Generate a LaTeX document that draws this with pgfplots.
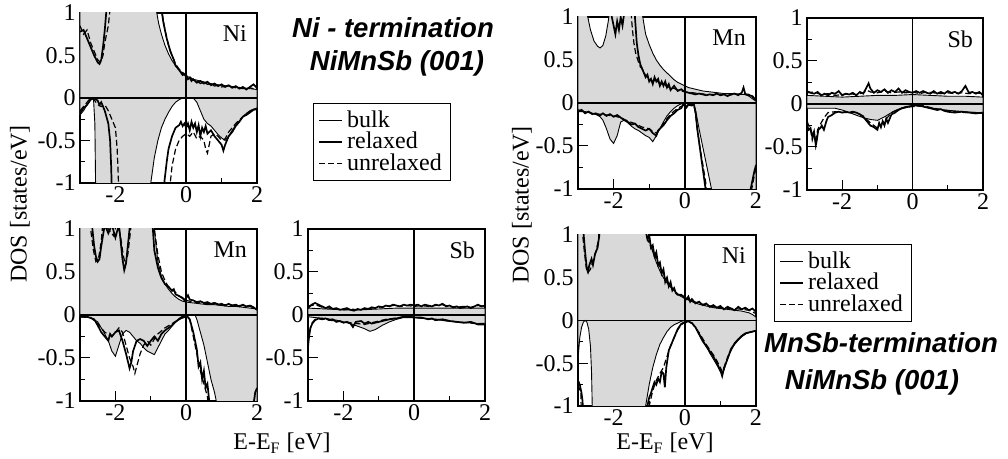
\documentclass[border=0pt]{standalone}
\usepackage{fontspec}
\setmainfont{Liberation Serif}
\setsansfont{Liberation Sans}
\usepackage{pgfplots}
\usepackage{pgfplotstable}
\pgfplotsset{compat=1.18}

\tikzset{plab/.style={anchor=north east, inner sep=0pt, font=\fontsize{12}{14}\selectfont}}
\pgfplotsset{
  dos/.style={
    scale only axis, width=88.5pt, height=85.5pt,
    xmin=-3,xmax=2,ymin=-1,ymax=1,
    xtick={-2,0,2}, minor xtick={-1,1},
    ytick={-1,-0.5,0,0.5,1}, minor ytick={-0.75,-0.25,0.25,0.75},
    xtick pos=left, ytick pos=left,
    tick align=inside,
    major tick length=5pt, minor tick length=2.5pt,
    every tick/.style={black, line width=0.5pt},
    axis line style={line width=0.7pt},
    tick label style={font=\fontsize{12}{14}\selectfont},
    /pgf/number format/assume math mode=true,
    xticklabel style={inner sep=1.5pt},
    yticklabel style={inner sep=2pt},
    clip=true,
  },
  bulkfill/.style={draw=none, fill=black!15, forget plot},
  bulk/.style={black, line width=0.45pt, forget plot},
  rel/.style={black, line width=0.85pt, forget plot},
  unrel/.style={black, line width=0.6pt, dash pattern=on 3pt off 1.5pt, forget plot},
  zl/.style={black, line width=0.8pt, forget plot},
  mylegend/.style={legend style={draw=black, line width=0.5pt, fill=white,
      font=\fontsize{12}{13}\selectfont, inner xsep=2.5pt, inner ysep=1.5pt, row sep=-3pt,
      nodes={inner sep=2pt, text depth=0.15em},
      cells={anchor=west}},
    legend image code/.code={\draw[##1] (0pt,0pt) -- (11.5pt,0pt);}},
}

% ---------- Ni termination: Ni ----------
\pgfplotstableread[row sep=\\]{x y\\ -3 0\\ -3 2\\ -1.0 2\\ -0.88 1.1\\ -0.83 1.0\\ -0.78 0.88\\ -0.7 0.75\\ -0.6 0.62\\ -0.5 0.52\\ -0.4 0.44\\ -0.3 0.38\\ -0.2 0.33\\ -0.1 0.29\\ 0 0.26\\ 0.1 0.24\\ 0.2 0.22\\ 0.4 0.2\\ 0.6 0.18\\ 0.8 0.16\\ 1.0 0.15\\ 1.2 0.14\\ 1.4 0.13\\ 1.6 0.12\\ 1.8 0.11\\ 2 0.1\\ 2 0\\}\NiLbu
\pgfplotstableread[row sep=\\]{x y\\ -3 0\\ -3 -0.2\\ -2.9 -0.15\\ -2.8 -0.08\\ -2.7 -0.02\\ -2.62 0\\ -2.58 -0.3\\ -2.56 -1\\ -2.55 -2\\ -1.05 -2\\ -1.0 -1.0\\ -0.9 -0.7\\ -0.8 -0.5\\ -0.7 -0.35\\ -0.6 -0.25\\ -0.5 -0.17\\ -0.4 -0.1\\ -0.3 -0.05\\ -0.2 -0.02\\ -0.1 0\\ 0.2 0\\ 0.3 -0.05\\ 0.4 -0.15\\ 0.5 -0.25\\ 0.6 -0.3\\ 0.7 -0.33\\ 0.8 -0.38\\ 0.9 -0.43\\ 1.0 -0.47\\ 1.1 -0.5\\ 1.2 -0.45\\ 1.3 -0.38\\ 1.4 -0.32\\ 1.5 -0.27\\ 1.6 -0.22\\ 1.7 -0.18\\ 1.8 -0.15\\ 1.9 -0.13\\ 2 -0.12\\ 2 0\\}\NiLbd
% ---------- Ni termination: Mn ----------
\pgfplotstableread[row sep=\\]{x y\\ -3 0\\ -3 2\\ -0.95 2\\ -0.9 1.0\\ -0.85 0.8\\ -0.8 0.62\\ -0.7 0.45\\ -0.6 0.36\\ -0.5 0.3\\ -0.4 0.25\\ -0.3 0.21\\ -0.2 0.18\\ -0.1 0.16\\ 0 0.15\\ 0.2 0.14\\ 0.4 0.13\\ 0.6 0.12\\ 0.8 0.12\\ 1.0 0.11\\ 1.2 0.1\\ 1.4 0.1\\ 1.6 0.09\\ 1.8 0.08\\ 2 0.07\\ 2 0\\}\MnLbu
\pgfplotstableread[row sep=\\]{x y\\ -3 0\\ -3 -0.02\\ -2.7 -0.03\\ -2.5 -0.08\\ -2.4 -0.15\\ -2.3 -0.22\\ -2.2 -0.3\\ -2.1 -0.42\\ -2.0 -0.48\\ -1.9 -0.35\\ -1.8 -0.22\\ -1.7 -0.18\\ -1.6 -0.2\\ -1.5 -0.25\\ -1.4 -0.3\\ -1.3 -0.33\\ -1.2 -0.38\\ -1.1 -0.42\\ -1.0 -0.44\\ -0.9 -0.46\\ -0.8 -0.38\\ -0.7 -0.3\\ -0.6 -0.22\\ -0.5 -0.18\\ -0.4 -0.13\\ -0.3 -0.08\\ -0.2 -0.04\\ -0.1 -0.01\\ 0.25 0\\ 0.3 -0.05\\ 0.4 -0.2\\ 0.5 -0.35\\ 0.6 -0.55\\ 0.7 -0.75\\ 0.8 -0.9\\ 0.85 -1.0\\ 0.9 -1.5\\ 2 -1.5\\ 2 0\\}\MnLbd
% ---------- Ni termination: Sb ----------
\pgfplotstableread[row sep=\\]{x y\\ -3 0\\ -3 0.08\\ -2.5 0.07\\ -2 0.06\\ -1.5 0.06\\ -1 0.07\\ -0.5 0.08\\ 0 0.08\\ 0.5 0.08\\ 1 0.08\\ 1.5 0.08\\ 2 0.08\\ 2 0\\}\SbLbu
\pgfplotstableread[row sep=\\]{x y\\ -3 0\\ -3 -0.02\\ -2.8 -0.03\\ -2.5 -0.04\\ -2.2 -0.06\\ -2.0 -0.08\\ -1.8 -0.1\\ -1.6 -0.13\\ -1.4 -0.16\\ -1.25 -0.19\\ -1.1 -0.17\\ -0.9 -0.12\\ -0.7 -0.08\\ -0.5 -0.05\\ -0.3 -0.03\\ 0 -0.03\\ 0.3 -0.04\\ 0.6 -0.05\\ 0.9 -0.07\\ 1.2 -0.08\\ 1.5 -0.09\\ 1.8 -0.1\\ 2 -0.1\\ 2 0\\}\SbLbd
% ---------- MnSb termination: Mn ----------
\pgfplotstableread[row sep=\\]{x y\\ -3 0\\ -3 1.5\\ -2.75 1.05\\ -2.65 0.85\\ -2.55 0.72\\ -2.45 0.66\\ -2.38 0.64\\ -2.3 0.67\\ -2.22 0.78\\ -2.15 0.95\\ -2.1 1.1\\ -2.05 1.5\\ -1.25 1.5\\ -1.2 1.05\\ -1.1 0.8\\ -1.0 0.68\\ -0.9 0.58\\ -0.8 0.5\\ -0.7 0.44\\ -0.6 0.39\\ -0.5 0.35\\ -0.4 0.31\\ -0.3 0.27\\ -0.2 0.24\\ -0.1 0.22\\ 0 0.2\\ 0.1 0.18\\ 0.3 0.16\\ 0.5 0.14\\ 0.7 0.13\\ 0.9 0.12\\ 1.1 0.11\\ 1.3 0.11\\ 1.5 0.1\\ 1.7 0.1\\ 1.8 0.08\\ 1.9 0.05\\ 2 0.02\\ 2 0\\}\MnRbu
\pgfplotstableread[row sep=\\]{x y\\ -3 0\\ -3 -0.1\\ -2.8 -0.1\\ -2.6 -0.12\\ -2.4 -0.15\\ -2.3 -0.2\\ -2.2 -0.3\\ -2.1 -0.42\\ -2.0 -0.47\\ -1.9 -0.38\\ -1.8 -0.22\\ -1.7 -0.2\\ -1.6 -0.23\\ -1.5 -0.27\\ -1.4 -0.3\\ -1.3 -0.32\\ -1.2 -0.35\\ -1.1 -0.38\\ -1.0 -0.4\\ -0.9 -0.45\\ -0.8 -0.38\\ -0.7 -0.3\\ -0.6 -0.22\\ -0.5 -0.15\\ -0.4 -0.1\\ -0.3 -0.06\\ -0.2 -0.03\\ -0.1 -0.01\\ 0.25 0\\ 0.32 -0.12\\ 0.4 -0.3\\ 0.5 -0.5\\ 0.6 -0.7\\ 0.7 -0.9\\ 0.75 -1.0\\ 0.8 -1.5\\ 2 -1.5\\ 2 0\\}\MnRbd
% ---------- MnSb termination: Sb ----------
\pgfplotstableread[row sep=\\]{x y\\ -3 0\\ -3 0.1\\ -2.5 0.09\\ -2 0.08\\ -1.5 0.09\\ -1 0.1\\ -0.5 0.1\\ 0 0.11\\ 0.5 0.1\\ 1 0.09\\ 1.5 0.09\\ 2 0.08\\ 2 0\\}\SbRbu
\pgfplotstableread[row sep=\\]{x y\\ -3 0\\ -3 -0.05\\ -2.5 -0.05\\ -2.2 -0.05\\ -2.0 -0.07\\ -1.8 -0.1\\ -1.6 -0.13\\ -1.4 -0.16\\ -1.2 -0.18\\ -1.0 -0.19\\ -0.8 -0.15\\ -0.6 -0.1\\ -0.4 -0.06\\ -0.2 -0.03\\ 0 -0.02\\ 0.3 -0.03\\ 0.6 -0.05\\ 0.9 -0.07\\ 1.2 -0.08\\ 1.5 -0.09\\ 1.8 -0.1\\ 2 -0.1\\ 2 0\\}\SbRbd
% ---------- MnSb termination: Ni ----------
\pgfplotstableread[row sep=\\]{x y\\ -3 0\\ -3 2\\ -1.1 2\\ -1.05 1.1\\ -1.0 0.95\\ -0.9 0.8\\ -0.8 0.68\\ -0.7 0.58\\ -0.6 0.5\\ -0.5 0.44\\ -0.4 0.39\\ -0.3 0.35\\ -0.2 0.31\\ -0.1 0.28\\ 0 0.26\\ 0.2 0.22\\ 0.4 0.19\\ 0.6 0.17\\ 0.8 0.15\\ 1.0 0.14\\ 1.2 0.13\\ 1.4 0.12\\ 1.6 0.11\\ 1.8 0.09\\ 1.9 0.07\\ 2 0.04\\ 2 0\\}\NiRbu
\pgfplotstableread[row sep=\\]{x y\\ -3 0\\ -3 -0.45\\ -2.95 -0.2\\ -2.9 -0.08\\ -2.85 -0.02\\ -2.8 0\\ -2.75 -0.02\\ -2.7 -0.1\\ -2.65 -0.3\\ -2.62 -0.6\\ -2.6 -1.0\\ -2.58 -1.5\\ -1.12 -1.5\\ -1.1 -1.0\\ -1.0 -0.75\\ -0.9 -0.55\\ -0.8 -0.4\\ -0.7 -0.28\\ -0.6 -0.2\\ -0.5 -0.13\\ -0.4 -0.08\\ -0.3 -0.05\\ -0.2 -0.03\\ -0.1 -0.01\\ 0 0\\ 0.1 -0.01\\ 0.2 -0.03\\ 0.3 -0.08\\ 0.4 -0.15\\ 0.5 -0.22\\ 0.6 -0.3\\ 0.7 -0.38\\ 0.8 -0.45\\ 0.9 -0.52\\ 1.0 -0.6\\ 1.05 -0.63\\ 1.1 -0.58\\ 1.2 -0.45\\ 1.3 -0.35\\ 1.4 -0.28\\ 1.5 -0.23\\ 1.6 -0.19\\ 1.7 -0.16\\ 1.8 -0.14\\ 1.9 -0.13\\ 2 -0.12\\ 2 0\\}\NiRbd

\begin{document}
\begin{tikzpicture}
\useasboundingbox (0,0) rectangle (504pt,-229.5pt);

% ===== Panel 1: Ni (Ni-termination) =====
\begin{axis}[dos, at={(40pt,-6.5pt)}, anchor=north west, height=85pt, mylegend,
  legend style={at={(1.316,0.47)}, anchor=north west}]
\addlegendimage{black, line width=0.45pt}\addlegendentry{bulk}
\addlegendimage{black, line width=0.85pt}\addlegendentry{relaxed}
\addlegendimage{black, line width=0.6pt, dash pattern=on 3pt off 1.5pt}\addlegendentry{unrelaxed}
\addplot[bulkfill] table {\NiLbu} \closedcycle;
\addplot[bulkfill] table {\NiLbd} \closedcycle;
\addplot[zl] coordinates {(-3,0) (2,0)};
\addplot[zl] coordinates {(0,-1) (0,1)};
\addplot[bulk] table {\NiLbu};
\addplot[bulk] table {\NiLbd};
\addplot[unrel] coordinates {(-3,0.85) (-2.9,0.75) (-2.8,0.8) (-2.7,0.65) (-2.6,0.55) (-2.5,0.45) (-2.42,0.42) (-2.35,0.5) (-2.3,0.65) (-2.2,0.85) (-2.15,1.05) (-2.1,1.5) (-0.75,1.5) (-0.68,1.0) (-0.6,0.8) (-0.5,0.62) (-0.4,0.5) (-0.3,0.4) (-0.2,0.34) (-0.1,0.3) (0,0.27) (0.1,0.25) (0.2,0.21) (0.3,0.2) (0.4,0.17) (0.5,0.19) (0.6,0.16) (0.7,0.17) (0.8,0.14) (0.9,0.15) (1.0,0.13) (1.2,0.14) (1.4,0.12) (1.6,0.11) (1.8,0.12) (2,0.1)};
\addplot[rel] coordinates {(-3,0.78) (-2.9,0.8) (-2.8,0.7) (-2.7,0.6) (-2.6,0.5) (-2.5,0.42) (-2.45,0.4) (-2.4,0.45) (-2.35,0.6) (-2.3,0.8) (-2.25,1.05) (-2.2,1.5) (-0.8,1.5) (-0.7,1.05) (-0.65,0.9) (-0.55,0.7) (-0.45,0.55) (-0.35,0.45) (-0.3,0.38) (-0.2,0.33) (-0.15,0.3) (-0.1,0.27) (-0.05,0.28) (0,0.25) (0.05,0.22) (0.1,0.24) (0.15,0.2) (0.2,0.22) (0.3,0.18) (0.4,0.2) (0.5,0.17) (0.6,0.19) (0.7,0.15) (0.8,0.17) (0.9,0.14) (1.0,0.16) (1.1,0.13) (1.2,0.15) (1.3,0.12) (1.4,0.14) (1.5,0.11) (1.6,0.13) (1.7,0.1) (1.8,0.13) (1.9,0.16) (2,0.12)};
\addplot[unrel] coordinates {(-3,-0.15) (-2.8,-0.05) (-2.7,0) (-2.6,-0.02) (-2.5,-0.08) (-2.4,-0.1) (-2.3,-0.08) (-2.2,-0.15) (-2.1,-0.25) (-2.0,-0.35) (-1.95,-0.6) (-1.92,-0.9) (-1.9,-1.2) (-1.85,-2) (-0.55,-2) (-0.45,-1.0) (-0.4,-0.8) (-0.3,-0.6) (-0.2,-0.5) (-0.1,-0.45) (0,-0.42) (0.1,-0.45) (0.2,-0.4) (0.3,-0.48) (0.4,-0.45) (0.5,-0.5) (0.55,-0.6) (0.6,-0.65) (0.65,-0.55) (0.7,-0.45) (0.8,-0.42) (0.9,-0.45) (1.0,-0.5) (1.1,-0.48) (1.2,-0.4) (1.4,-0.3) (1.6,-0.22) (1.8,-0.16) (2,-0.12)};
\addplot[rel] coordinates {(-3,-0.18) (-2.9,-0.12) (-2.8,-0.08) (-2.7,-0.02) (-2.6,0) (-2.5,-0.03) (-2.45,-0.08) (-2.4,-0.05) (-2.3,-0.15) (-2.2,-0.3) (-2.15,-0.5) (-2.12,-0.8) (-2.1,-1.1) (-2.05,-2) (-0.7,-2) (-0.62,-1.0) (-0.55,-0.75) (-0.5,-0.6) (-0.4,-0.45) (-0.3,-0.35) (-0.2,-0.32) (-0.15,-0.28) (-0.1,-0.33) (-0.05,-0.3) (0,-0.35) (0.05,-0.3) (0.1,-0.38) (0.15,-0.28) (0.2,-0.35) (0.25,-0.3) (0.3,-0.4) (0.35,-0.32) (0.4,-0.45) (0.45,-0.35) (0.5,-0.4) (0.55,-0.33) (0.6,-0.42) (0.7,-0.38) (0.8,-0.45) (0.9,-0.5) (1.0,-0.55) (1.05,-0.62) (1.1,-0.55) (1.2,-0.45) (1.3,-0.4) (1.4,-0.33) (1.5,-0.28) (1.6,-0.22) (1.7,-0.2) (1.8,-0.17) (1.9,-0.14) (2,-0.13)};
\node[plab] at (rel axis cs:0.945,0.93) {Ni};
\end{axis}

% ===== Panel 2: Mn (Ni-termination) =====
\begin{axis}[dos, at={(40pt,-114.5pt)}, anchor=north west, height=86pt]
\addplot[bulkfill] table {\MnLbu} \closedcycle;
\addplot[bulkfill] table {\MnLbd} \closedcycle;
\addplot[zl] coordinates {(-3,0) (2,0)};
\addplot[zl] coordinates {(0,-1) (0,1)};
\addplot[bulk] table {\MnLbu};
\addplot[bulk] table {\MnLbd};
\addplot[unrel] coordinates {(-3,1.5) (-2.75,1.5) (-2.7,1.0) (-2.62,0.75) (-2.55,0.62) (-2.48,0.65) (-2.4,0.85) (-2.35,1.1) (-2.2,1.0) (-2.05,0.92) (-1.95,1.1) (-1.85,0.9) (-1.78,0.7) (-1.72,0.58) (-1.65,0.7) (-1.58,0.95) (-1.5,1.3) (-1.2,1.5) (-1.0,1.5) (-0.9,1.0) (-0.8,0.7) (-0.7,0.5) (-0.6,0.4) (-0.5,0.32) (-0.4,0.3) (-0.3,0.26) (-0.2,0.22) (-0.1,0.19) (0,0.17) (0.1,0.16) (0.2,0.15) (0.4,0.14) (0.6,0.13) (0.8,0.14) (1.0,0.12) (1.2,0.12) (1.4,0.11) (1.6,0.11) (1.8,0.1) (2,0.07)};
\addplot[rel] coordinates {(-3,1.5) (-2.7,1.5) (-2.65,1.0) (-2.6,0.8) (-2.55,0.68) (-2.5,0.62) (-2.45,0.65) (-2.4,0.8) (-2.3,1.05) (-2.2,0.95) (-2.1,1.05) (-2.0,0.9) (-1.9,1.05) (-1.85,0.85) (-1.8,0.65) (-1.75,0.52) (-1.7,0.6) (-1.65,0.8) (-1.6,1.0) (-1.5,1.5) (-1.0,1.5) (-0.95,1.05) (-0.9,0.75) (-0.8,0.55) (-0.7,0.43) (-0.6,0.36) (-0.5,0.33) (-0.4,0.28) (-0.35,0.3) (-0.3,0.24) (-0.2,0.22) (-0.1,0.2) (-0.05,0.17) (0,0.2) (0.05,0.23) (0.1,0.18) (0.2,0.17) (0.3,0.15) (0.4,0.16) (0.5,0.14) (0.6,0.15) (0.7,0.13) (0.8,0.14) (0.9,0.12) (1.0,0.13) (1.1,0.11) (1.2,0.13) (1.3,0.11) (1.4,0.12) (1.5,0.1) (1.6,0.12) (1.7,0.1) (1.8,0.11) (1.9,0.09) (2,0.06)};
\addplot[unrel] coordinates {(-3,-0.02) (-2.7,-0.03) (-2.5,-0.1) (-2.3,-0.2) (-2.1,-0.25) (-1.9,-0.15) (-1.8,-0.2) (-1.7,-0.35) (-1.6,-0.5) (-1.5,-0.6) (-1.45,-0.68) (-1.4,-0.6) (-1.3,-0.45) (-1.2,-0.35) (-1.1,-0.3) (-1.0,-0.35) (-0.9,-0.28) (-0.8,-0.22) (-0.6,-0.15) (-0.4,-0.1) (-0.2,-0.05) (0,-0.02) (0.1,-0.05) (0.2,-0.25) (0.3,-0.45) (0.4,-0.65) (0.5,-0.8) (0.6,-0.95) (0.65,-1.2) (1.85,-1.2) (1.95,-0.9) (2,-0.85)};
\addplot[rel] coordinates {(-3,-0.02) (-2.8,-0.02) (-2.6,-0.05) (-2.5,-0.12) (-2.4,-0.2) (-2.3,-0.25) (-2.2,-0.3) (-2.15,-0.22) (-2.1,-0.25) (-2.0,-0.2) (-1.9,-0.18) (-1.8,-0.3) (-1.7,-0.45) (-1.6,-0.62) (-1.55,-0.55) (-1.5,-0.42) (-1.4,-0.3) (-1.3,-0.28) (-1.2,-0.3) (-1.1,-0.36) (-1.0,-0.3) (-0.9,-0.25) (-0.8,-0.3) (-0.7,-0.22) (-0.6,-0.18) (-0.5,-0.15) (-0.4,-0.12) (-0.3,-0.08) (-0.2,-0.05) (-0.1,-0.02) (0,0) (0.1,-0.05) (0.2,-0.2) (0.3,-0.4) (0.35,-0.6) (0.4,-0.55) (0.45,-0.75) (0.5,-0.65) (0.55,-0.85) (0.6,-0.8) (0.65,-1.0) (0.7,-1.3) (1.8,-1.3) (1.9,-1.05) (1.95,-0.9) (2,-0.85)};
\node[plab] at (rel axis cs:0.945,0.93) {Mn};
\end{axis}

% ===== Panel 3: Sb (Ni-termination) =====
\begin{axis}[dos, at={(154pt,-114.5pt)}, anchor=north west, height=86pt]
\addplot[bulkfill] table {\SbLbu} \closedcycle;
\addplot[bulkfill] table {\SbLbd} \closedcycle;
\addplot[zl] coordinates {(-3,0) (2,0)};
\addplot[zl] coordinates {(0,-1) (0,1)};
\addplot[bulk] table {\SbLbu};
\addplot[bulk] table {\SbLbd};
\addplot[unrel] coordinates {(-3,0.1) (-2.8,0.12) (-2.6,0.09) (-2.4,0.08) (-2.2,0.07) (-2.0,0.06) (-1.8,0.07) (-1.6,0.06) (-1.4,0.07) (-1.2,0.08) (-1.0,0.09) (-0.8,0.1) (-0.6,0.11) (-0.4,0.1) (-0.2,0.11) (0,0.1) (0.2,0.11) (0.4,0.1) (0.6,0.11) (0.8,0.12) (1.0,0.1) (1.2,0.09) (1.4,0.1) (1.6,0.09) (1.8,0.11) (2,0.1)};
\addplot[rel] coordinates {(-3,0.08) (-2.9,0.12) (-2.8,0.14) (-2.7,0.12) (-2.6,0.1) (-2.5,0.08) (-2.4,0.1) (-2.3,0.07) (-2.2,0.08) (-2.1,0.06) (-2,0.07) (-1.9,0.08) (-1.8,0.06) (-1.7,0.05) (-1.6,0.07) (-1.5,0.06) (-1.4,0.08) (-1.3,0.07) (-1.2,0.09) (-1.1,0.08) (-1.0,0.1) (-0.9,0.09) (-0.8,0.11) (-0.7,0.1) (-0.6,0.12) (-0.5,0.11) (-0.4,0.1) (-0.3,0.12) (-0.2,0.11) (-0.1,0.12) (0,0.11) (0.1,0.12) (0.2,0.1) (0.3,0.12) (0.4,0.11) (0.5,0.1) (0.6,0.12) (0.7,0.11) (0.8,0.13) (0.9,0.1) (1.0,0.11) (1.1,0.09) (1.2,0.1) (1.3,0.08) (1.4,0.09) (1.5,0.1) (1.6,0.08) (1.7,0.1) (1.8,0.12) (1.9,0.1) (2,0.11)};
\addplot[unrel] coordinates {(-3,-0.3) (-2.95,-0.18) (-2.9,-0.1) (-2.8,-0.05) (-2.6,-0.04) (-2.4,-0.06) (-2.2,-0.07) (-2.0,-0.08) (-1.8,-0.09) (-1.6,-0.1) (-1.4,-0.11) (-1.2,-0.09) (-1.0,-0.07) (-0.8,-0.05) (-0.6,-0.04) (-0.4,-0.03) (-0.2,-0.02) (0,-0.03) (0.3,-0.04) (0.6,-0.05) (0.9,-0.06) (1.2,-0.08) (1.5,-0.09) (1.8,-0.1) (2,-0.1)};
\addplot[rel] coordinates {(-3,-0.37) (-2.97,-0.25) (-2.93,-0.15) (-2.88,-0.1) (-2.8,-0.06) (-2.7,-0.04) (-2.6,-0.05) (-2.5,-0.04) (-2.4,-0.06) (-2.3,-0.05) (-2.2,-0.08) (-2.1,-0.07) (-2.0,-0.09) (-1.9,-0.08) (-1.8,-0.1) (-1.73,-0.14) (-1.65,-0.08) (-1.5,-0.07) (-1.4,-0.1) (-1.3,-0.08) (-1.2,-0.1) (-1.1,-0.09) (-1.0,-0.08) (-0.9,-0.07) (-0.8,-0.06) (-0.7,-0.05) (-0.5,-0.04) (-0.3,-0.02) (-0.1,-0.02) (0,-0.03) (0.2,-0.03) (0.4,-0.05) (0.5,-0.04) (0.6,-0.06) (0.8,-0.05) (1.0,-0.07) (1.2,-0.08) (1.4,-0.09) (1.6,-0.08) (1.8,-0.11) (2,-0.11)};
\node[plab] at (rel axis cs:0.945,0.93) {Sb};
\end{axis}

% ===== Panel 4: Mn (MnSb-termination) =====
\begin{axis}[dos, at={(289pt,-8.5pt)}, anchor=north west, width=89pt, height=86pt]
\addplot[bulkfill] table {\MnRbu} \closedcycle;
\addplot[bulkfill] table {\MnRbd} \closedcycle;
\addplot[zl] coordinates {(-3,0) (2,0)};
\addplot[zl] coordinates {(0,-1) (0,1)};
\addplot[bulk] table {\MnRbu};
\addplot[bulk] table {\MnRbd};
\addplot[unrel] coordinates {(-3,1.5) (-1.55,1.5) (-1.5,1.0) (-1.47,0.85) (-1.43,0.7) (-1.38,0.58) (-1.32,0.5) (-1.25,0.42) (-1.2,0.4) (-1.1,0.32) (-1.0,0.28) (-0.9,0.25) (-0.8,0.27) (-0.7,0.22) (-0.6,0.22) (-0.5,0.19) (-0.4,0.18) (-0.3,0.17) (-0.2,0.15) (-0.1,0.14) (0,0.13) (0.2,0.12) (0.4,0.11) (0.6,0.1) (0.8,0.1) (1.0,0.1) (1.2,0.09) (1.4,0.1) (1.6,0.11) (1.8,0.1) (2,0.04)};
\addplot[rel] coordinates {(-3,1.5) (-2.1,1.5) (-2.05,1.0) (-2.0,0.9) (-1.95,0.8) (-1.9,0.95) (-1.85,0.85) (-1.8,1.0) (-1.75,0.9) (-1.7,1.05) (-1.6,1.5) (-1.45,1.5) (-1.4,1.0) (-1.35,0.7) (-1.3,0.55) (-1.25,0.45) (-1.2,0.4) (-1.15,0.35) (-1.1,0.3) (-1.05,0.33) (-1.0,0.25) (-0.95,0.28) (-0.9,0.22) (-0.85,0.3) (-0.8,0.25) (-0.75,0.28) (-0.7,0.2) (-0.65,0.25) (-0.6,0.2) (-0.55,0.25) (-0.5,0.18) (-0.45,0.22) (-0.4,0.15) (-0.3,0.2) (-0.2,0.14) (-0.1,0.16) (0,0.13) (0.1,0.12) (0.2,0.11) (0.3,0.1) (0.4,0.11) (0.5,0.1) (0.6,0.09) (0.7,0.1) (0.8,0.09) (0.9,0.11) (1.0,0.09) (1.1,0.1) (1.2,0.08) (1.3,0.1) (1.4,0.11) (1.5,0.09) (1.6,0.12) (1.65,0.18) (1.7,0.1) (1.8,0.09) (1.9,0.08) (2,0.03)};
\addplot[unrel] coordinates {(-3,-0.08) (-2.8,-0.1) (-2.6,-0.12) (-2.4,-0.13) (-2.2,-0.14) (-2.0,-0.15) (-1.8,-0.17) (-1.6,-0.21) (-1.4,-0.24) (-1.2,-0.28) (-1.0,-0.3) (-0.9,-0.33) (-0.8,-0.35) (-0.7,-0.3) (-0.6,-0.24) (-0.5,-0.18) (-0.4,-0.13) (-0.2,-0.06) (0,-0.02) (0.25,-0.02) (0.3,-0.12) (0.35,-0.3) (0.42,-0.5) (0.5,-0.7) (0.58,-0.9) (0.62,-1.05) (0.66,-1.5) (1.8,-1.5) (1.88,-1.0) (1.95,-0.85) (2,-0.75)};
\addplot[rel] coordinates {(-3,-0.1) (-2.9,-0.08) (-2.8,-0.12) (-2.7,-0.1) (-2.6,-0.13) (-2.5,-0.12) (-2.4,-0.15) (-2.3,-0.12) (-2.2,-0.15) (-2.1,-0.13) (-2.0,-0.16) (-1.9,-0.14) (-1.8,-0.17) (-1.7,-0.2) (-1.6,-0.22) (-1.5,-0.25) (-1.4,-0.24) (-1.3,-0.28) (-1.2,-0.3) (-1.1,-0.32) (-1.0,-0.3) (-0.9,-0.35) (-0.8,-0.38) (-0.75,-0.32) (-0.7,-0.3) (-0.6,-0.26) (-0.5,-0.2) (-0.4,-0.15) (-0.3,-0.12) (-0.2,-0.08) (-0.1,-0.06) (-0.05,-0.02) (0,-0.01) (0.05,-0.05) (0.1,-0.02) (0.2,-0.03) (0.25,-0.01) (0.3,-0.1) (0.35,-0.3) (0.4,-0.45) (0.45,-0.6) (0.5,-0.75) (0.55,-0.9) (0.6,-1.05) (0.65,-1.5) (1.75,-1.5) (1.85,-1.0) (1.9,-0.9) (1.95,-0.8) (2,-0.72)};
\node[plab] at (rel axis cs:0.945,0.93) {Mn};
\end{axis}

% ===== Panel 5: Sb (MnSb-termination) =====
\begin{axis}[dos, at={(403.5pt,-9pt)}, anchor=north west, width=88pt, height=86pt]
\addplot[bulkfill] table {\SbRbu} \closedcycle;
\addplot[bulkfill] table {\SbRbd} \closedcycle;
\addplot[zl] coordinates {(-3,0) (2,0)};
\addplot[zl] coordinates {(0,-1) (0,1)};
\addplot[bulk] table {\SbRbu};
\addplot[bulk] table {\SbRbd};
\addplot[unrel] coordinates {(-3,0.13) (-2.8,0.14) (-2.6,0.11) (-2.4,0.12) (-2.2,0.1) (-2.0,0.11) (-1.8,0.12) (-1.6,0.11) (-1.4,0.13) (-1.3,0.16) (-1.2,0.14) (-1.0,0.13) (-0.8,0.15) (-0.6,0.13) (-0.4,0.14) (-0.2,0.13) (0,0.14) (0.2,0.12) (0.4,0.14) (0.6,0.13) (0.8,0.12) (1.0,0.13) (1.2,0.12) (1.4,0.13) (1.6,0.12) (1.8,0.13) (2,0.12)};
\addplot[rel] coordinates {(-3,0.15) (-2.9,0.13) (-2.8,0.12) (-2.7,0.14) (-2.6,0.1) (-2.5,0.12) (-2.4,0.1) (-2.3,0.13) (-2.2,0.12) (-2.1,0.15) (-2.0,0.1) (-1.9,0.12) (-1.8,0.11) (-1.7,0.13) (-1.6,0.1) (-1.5,0.14) (-1.4,0.12) (-1.3,0.2) (-1.25,0.24) (-1.2,0.18) (-1.1,0.13) (-1.0,0.16) (-0.9,0.14) (-0.8,0.17) (-0.7,0.13) (-0.6,0.16) (-0.5,0.14) (-0.4,0.18) (-0.3,0.13) (-0.2,0.16) (-0.1,0.14) (0,0.13) (0.1,0.15) (0.2,0.13) (0.3,0.15) (0.4,0.13) (0.5,0.12) (0.6,0.15) (0.7,0.12) (0.8,0.14) (0.9,0.12) (1.0,0.15) (1.1,0.13) (1.2,0.14) (1.3,0.12) (1.4,0.15) (1.5,0.21) (1.55,0.17) (1.6,0.13) (1.7,0.14) (1.8,0.12) (1.9,0.14) (2,0.1)};
\addplot[unrel] coordinates {(-3,-0.2) (-2.9,-0.3) (-2.85,-0.42) (-2.8,-0.35) (-2.75,-0.45) (-2.7,-0.3) (-2.6,-0.22) (-2.5,-0.15) (-2.4,-0.1) (-2.2,-0.09) (-2.0,-0.1) (-1.8,-0.1) (-1.6,-0.1) (-1.4,-0.14) (-1.3,-0.18) (-1.2,-0.22) (-1.1,-0.25) (-1.0,-0.28) (-0.9,-0.24) (-0.8,-0.2) (-0.7,-0.15) (-0.6,-0.1) (-0.4,-0.06) (-0.2,-0.04) (0,-0.03) (0.3,-0.02) (0.6,-0.05) (0.9,-0.07) (1.2,-0.09) (1.5,-0.1) (1.8,-0.1) (2,-0.11)};
\addplot[rel] coordinates {(-3,-0.25) (-2.95,-0.3) (-2.9,-0.28) (-2.85,-0.38) (-2.8,-0.32) (-2.75,-0.48) (-2.72,-0.42) (-2.68,-0.3) (-2.62,-0.28) (-2.58,-0.25) (-2.52,-0.3) (-2.45,-0.2) (-2.4,-0.15) (-2.3,-0.13) (-2.2,-0.1) (-2.1,-0.09) (-2.0,-0.1) (-1.9,-0.09) (-1.8,-0.1) (-1.7,-0.09) (-1.6,-0.1) (-1.5,-0.12) (-1.4,-0.15) (-1.3,-0.2) (-1.2,-0.25) (-1.1,-0.27) (-1.0,-0.3) (-0.95,-0.22) (-0.9,-0.27) (-0.85,-0.2) (-0.8,-0.25) (-0.75,-0.17) (-0.7,-0.22) (-0.6,-0.12) (-0.5,-0.1) (-0.4,-0.07) (-0.3,-0.05) (-0.2,-0.04) (-0.1,-0.03) (0,-0.02) (0.1,-0.01) (0.2,-0.02) (0.3,-0.03) (0.4,-0.04) (0.5,-0.05) (0.6,-0.06) (0.7,-0.07) (0.8,-0.06) (0.9,-0.08) (1.0,-0.09) (1.2,-0.1) (1.4,-0.09) (1.6,-0.1) (1.8,-0.11) (2,-0.1)};
\node[plab] at (rel axis cs:0.945,0.93) {Sb};
\end{axis}

% ===== Panel 6: Ni (MnSb-termination) =====
\begin{axis}[dos, at={(289pt,-117.5pt)}, anchor=north west, width=89pt, height=85.5pt, mylegend,
  legend style={at={(1.101,0.947)}, anchor=north west}]
\addlegendimage{black, line width=0.45pt}\addlegendentry{bulk}
\addlegendimage{black, line width=0.85pt}\addlegendentry{relaxed}
\addlegendimage{black, line width=0.6pt, dash pattern=on 3pt off 1.5pt}\addlegendentry{unrelaxed}
\addplot[bulkfill] table {\NiRbu} \closedcycle;
\addplot[bulkfill] table {\NiRbd} \closedcycle;
\addplot[zl] coordinates {(-3,0) (2,0)};
\addplot[zl] coordinates {(0,-1) (0,1)};
\addplot[bulk] table {\NiRbu};
\addplot[bulk] table {\NiRbd};
\addplot[unrel] coordinates {(-3,1.5) (-2.88,1.05) (-2.82,0.8) (-2.77,0.62) (-2.72,0.56) (-2.65,0.6) (-2.58,0.7) (-2.5,0.8) (-2.42,0.95) (-2.38,1.5) (-1.15,1.5) (-1.08,1.0) (-1.0,0.9) (-0.9,0.82) (-0.8,0.72) (-0.7,0.62) (-0.6,0.55) (-0.5,0.46) (-0.4,0.4) (-0.3,0.35) (-0.2,0.31) (-0.1,0.28) (0,0.26) (0.2,0.23) (0.4,0.2) (0.6,0.18) (0.8,0.16) (1.0,0.15) (1.2,0.14) (1.4,0.14) (1.6,0.13) (1.8,0.12) (2,0.08)};
\addplot[rel] coordinates {(-3,1.5) (-2.85,1.05) (-2.8,0.8) (-2.75,0.6) (-2.72,0.57) (-2.68,0.65) (-2.62,0.72) (-2.58,0.65) (-2.52,0.78) (-2.45,0.85) (-2.4,1.0) (-2.35,1.5) (-1.15,1.5) (-1.1,1.05) (-1.05,0.95) (-1.0,1.0) (-0.95,0.85) (-0.9,0.88) (-0.85,0.75) (-0.8,0.8) (-0.75,0.65) (-0.7,0.68) (-0.65,0.55) (-0.6,0.6) (-0.55,0.45) (-0.5,0.5) (-0.45,0.4) (-0.4,0.45) (-0.35,0.35) (-0.3,0.38) (-0.25,0.32) (-0.2,0.3) (-0.1,0.3) (0,0.27) (0.05,0.25) (0.1,0.28) (0.15,0.22) (0.2,0.25) (0.3,0.2) (0.4,0.22) (0.5,0.18) (0.6,0.2) (0.7,0.16) (0.8,0.18) (0.9,0.15) (1.0,0.17) (1.1,0.13) (1.2,0.16) (1.3,0.14) (1.4,0.12) (1.5,0.16) (1.6,0.13) (1.7,0.15) (1.8,0.12) (1.9,0.14) (2,0.1)};
\addplot[unrel] coordinates {(-3,-0.75) (-2.92,-0.85) (-2.88,-1.5) (-1.05,-1.5) (-1.0,-1.0) (-0.9,-0.82) (-0.8,-0.7) (-0.7,-0.62) (-0.6,-0.55) (-0.5,-0.42) (-0.4,-0.3) (-0.3,-0.2) (-0.2,-0.11) (-0.1,-0.05) (0,-0.02) (0.2,-0.03) (0.4,-0.14) (0.6,-0.28) (0.8,-0.4) (0.9,-0.47) (1.0,-0.55) (1.05,-0.6) (1.1,-0.55) (1.2,-0.43) (1.4,-0.26) (1.6,-0.18) (1.8,-0.14) (2,-0.12)};
\addplot[rel] coordinates {(-3,-0.7) (-2.95,-0.75) (-2.9,-0.85) (-2.87,-0.95) (-2.85,-1.5) (-1.08,-1.5) (-1.05,-1.0) (-1.0,-0.9) (-0.95,-0.85) (-0.9,-0.78) (-0.85,-0.72) (-0.8,-0.75) (-0.75,-0.68) (-0.7,-0.72) (-0.65,-0.6) (-0.6,-0.62) (-0.56,-0.78) (-0.52,-0.55) (-0.45,-0.35) (-0.4,-0.3) (-0.3,-0.2) (-0.2,-0.1) (-0.1,-0.04) (0,-0.02) (0.1,-0.01) (0.2,-0.03) (0.3,-0.08) (0.4,-0.16) (0.5,-0.24) (0.6,-0.3) (0.7,-0.36) (0.8,-0.42) (0.9,-0.5) (1.0,-0.58) (1.05,-0.65) (1.1,-0.56) (1.2,-0.45) (1.3,-0.33) (1.4,-0.27) (1.5,-0.22) (1.6,-0.18) (1.7,-0.15) (1.8,-0.14) (1.9,-0.13) (2,-0.12)};
\node[plab] at (rel axis cs:0.945,0.93) {Ni};
\end{axis}

% ===== labels and titles =====
\node[rotate=90, font=\fontsize{12}{14}\selectfont] at (10pt,-102pt) {DOS [states/eV]};
\node[rotate=90, font=\fontsize{12}{14}\selectfont] at (261pt,-102.5pt) {DOS [states/eV]};
\node[anchor=base, font=\fontsize{12}{14}\selectfont] at (141pt,-225pt) {E-E\textsubscript{F} [eV]};
\node[anchor=base, font=\fontsize{12}{14}\selectfont] at (332.5pt,-225pt) {E-E\textsubscript{F} [eV]};
\node[font=\sffamily\bfseries\itshape\fontsize{13.75}{16}\selectfont] at (196.5pt,-14pt) {Ni - termination};
\node[font=\sffamily\bfseries\itshape\fontsize{13.75}{16}\selectfont] at (198.5pt,-31.5pt) {NiMnSb (001)};
\node[font=\sffamily\bfseries\itshape\fontsize{13.75}{16}\selectfont] at (440.5pt,-171.5pt) {MnSb-termination};
\node[font=\sffamily\bfseries\itshape\fontsize{13.75}{16}\selectfont] at (436pt,-191pt) {NiMnSb (001)};
\end{tikzpicture}
\end{document}
